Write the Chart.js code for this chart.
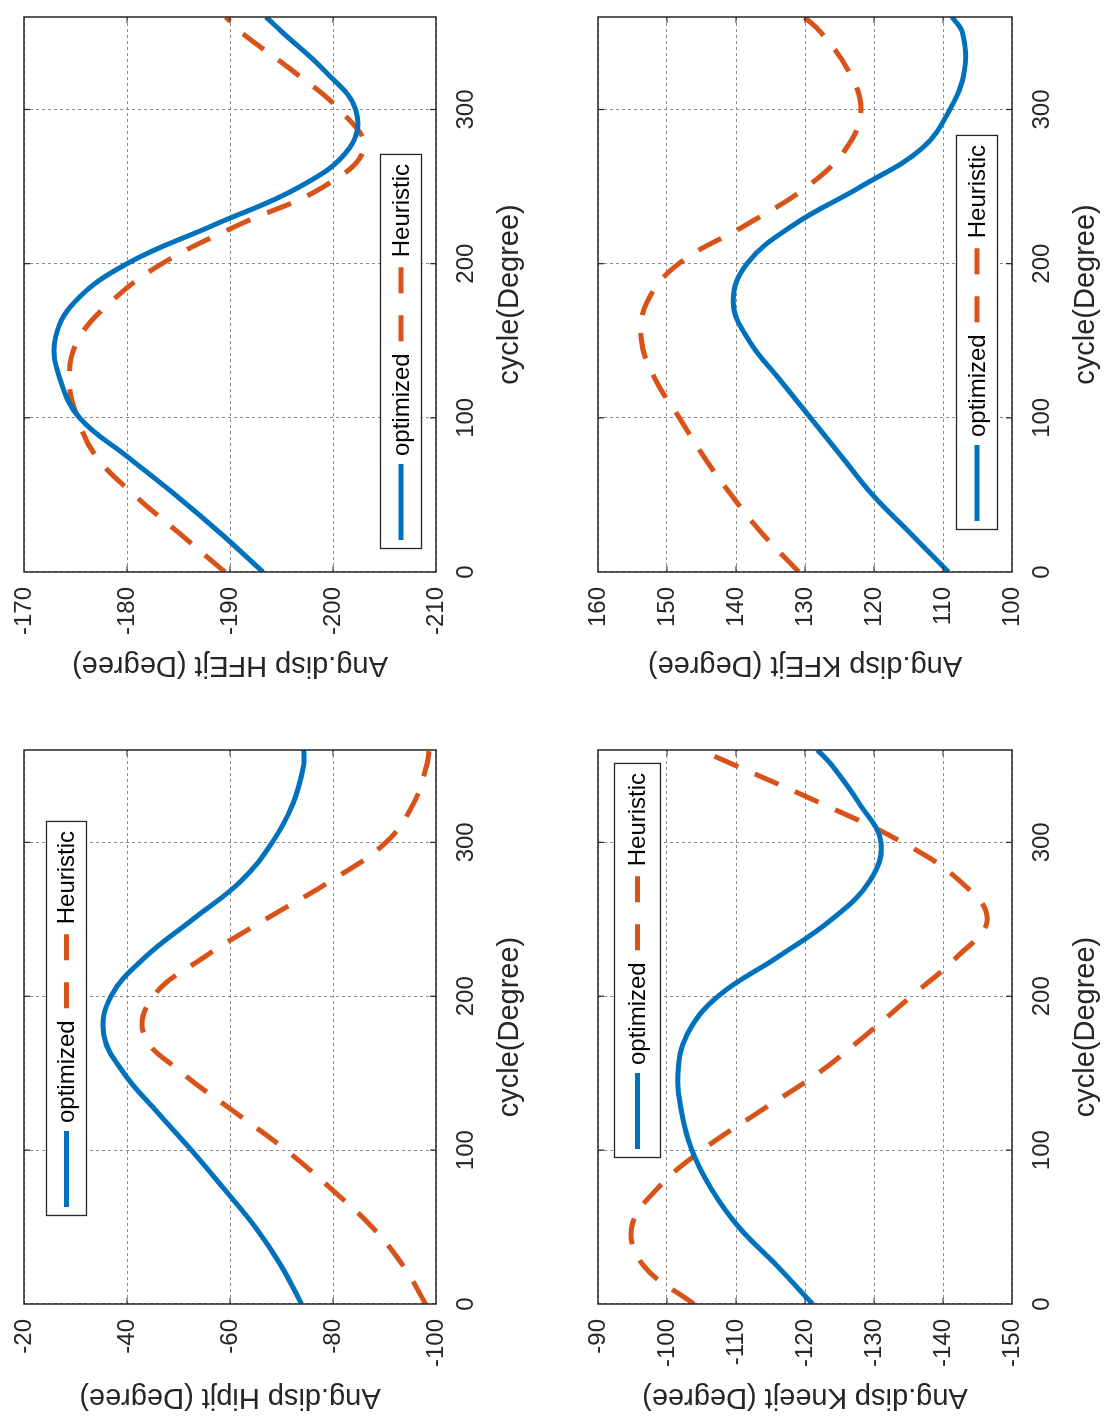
<!DOCTYPE html>
<html>
<head>
<meta charset="utf-8">
<script src="https://cdn.jsdelivr.net/npm/chart.js@4"></script>
<style>
html,body{margin:0;padding:0;background:#fff;overflow:hidden;width:1110px;height:1426px}
#fig{position:absolute;left:0;top:0;width:1426px;height:1110px;transform-origin:0 0;transform:translate(0,1426px) rotate(-90deg);background:#fff}
#fig canvas{position:absolute}
</style>
</head>
<body>
<div id="fig">
<canvas id="cHip"></canvas>
<canvas id="cHfe"></canvas>
<canvas id="cKnee"></canvas>
<canvas id="cKfe"></canvas>
</div>
<script>
// ---- data ----
const cycle = [0, 25, 50, 75, 100, 125, 150, 175, 200, 225, 250, 275, 300, 325, 350, 360];
const cycleTicks = [0, 100, 200, 300];
const seriesNames = ['optimized', 'Heuristic'];

const hipOptimized = [-73.9, -69.9, -64.9, -58.8, -52.5, -45.8, -39.4, -35.5, -36.9, -43.4, -52.8, -62.2, -68.2, -72.2, -74.3, -74.3];
const hipHeuristic = [-98.0, -93.6, -87.6, -79.6, -70.9, -60.8, -50.8, -43.3, -45.1, -54.8, -66.9, -79.6, -90.3, -95.6, -98.2, -98.7];
const hipTicks = [-100, -80, -60, -40, -20];

const hfeOptimized = [-193.2, -189.1, -184.7, -180.0, -175.4, -173.5, -173.0, -174.9, -180.0, -188.4, -196.8, -201.6, -202.2, -199.2, -195.1, -193.5];
const hfeHeuristic = [-189.5, -185.1, -180.7, -177.0, -175.2, -174.4, -175.2, -178.4, -183.4, -190.8, -199.1, -203.0, -200.6, -196.1, -191.1, -189.6];
const hfeTicks = [-210, -200, -190, -180, -170];

const kneeOptimized = [-121.1, -115.9, -110.4, -106.4, -103.6, -102.1, -101.6, -102.9, -107.4, -115.9, -123.9, -129.4, -131.0, -127.9, -123.9, -121.8];
const kneeHeuristic = [-103.9, -96.6, -94.9, -98.6, -105.1, -113.4, -121.9, -128.9, -135.4, -141.9, -146.4, -142.4, -134.1, -122.5, -109.9, -104.8];
const kneeTicks = [-150, -140, -130, -120, -110, -100, -90];

const kfeOptimized = [109.2, 114.7, 120.2, 124.7, 129.2, 133.7, 138.1, 140.4, 138.4, 131.7, 121.9, 113.0, 109.0, 106.9, 107.2, 108.7];
const kfeHeuristic = [130.9, 136.2, 140.7, 144.7, 148.2, 151.7, 153.7, 152.9, 148.3, 138.6, 129.7, 124.0, 121.9, 123.7, 127.7, 130.1];
const kfeTicks = [100, 110, 120, 130, 140, 150, 160];

// ---- styling ----
const FONT = "'Liberation Sans', Arial, Helvetica, sans-serif";
Chart.defaults.font.family = FONT;
const BLUE = '#0072BD', RED = '#D95319', INK = '#262626';

const framePlugin = {
  id: 'frame',
  afterDatasetsDraw(chart) {
    const {ctx, chartArea: a, scales} = chart;
    ctx.save();
    ctx.strokeStyle = INK;
    ctx.lineWidth = 1.5;
    ctx.setLineDash([]);
    ctx.strokeRect(a.left, a.top, a.right - a.left, a.bottom - a.top);
    ctx.lineWidth = 1.2;
    const tl = 6;
    ctx.beginPath();
    scales.x.ticks.forEach(t => {
      const px = scales.x.getPixelForValue(t.value);
      if (px <= a.left + 1 || px >= a.right - 1) return;
      ctx.moveTo(px, a.bottom); ctx.lineTo(px, a.bottom - tl);
      ctx.moveTo(px, a.top); ctx.lineTo(px, a.top + tl);
    });
    scales.y.ticks.forEach(t => {
      const py = scales.y.getPixelForValue(t.value);
      if (py <= a.top + 1 || py >= a.bottom - 1) return;
      ctx.moveTo(a.left, py); ctx.lineTo(a.left + tl, py);
      ctx.moveTo(a.right, py); ctx.lineTo(a.right - tl, py);
    });
    ctx.stroke();
    ctx.restore();
  }
};

const boxLegend = {
  id: 'boxLegend',
  afterDatasetsDraw(chart, args, opts) {
    const {ctx, chartArea: a} = chart;
    const ds = chart.data.datasets;
    ctx.save();
    ctx.font = "24px " + FONT;
    const pad = 9, sample = 76, gapText = 8, gapItem = 12;
    const widths = ds.map(d => ctx.measureText(d.label).width);
    let w = pad;
    ds.forEach((d, i) => { w += sample + gapText + widths[i] + (i < ds.length - 1 ? gapItem : pad); });
    const x0 = Math.round(a.left + opts.left), y0 = Math.round(a.top + opts.top), h = opts.height;
    ctx.fillStyle = '#fff';
    ctx.fillRect(x0, y0, w, h);
    ctx.lineWidth = 1.3;
    ctx.strokeStyle = INK;
    ctx.strokeRect(x0 + 0.5, y0 + 0.5, w, h);
    let x = x0 + pad;
    const yc = y0 + h / 2 + 0.5;
    ds.forEach((d, i) => {
      ctx.beginPath();
      ctx.setLineDash(d.legendDash || []);
      ctx.lineWidth = d.borderWidth;
      ctx.strokeStyle = d.borderColor;
      ctx.moveTo(x, yc); ctx.lineTo(x + sample, yc);
      ctx.stroke();
      ctx.setLineDash([]);
      x += sample + gapText;
      ctx.fillStyle = '#000';
      ctx.textBaseline = 'middle';
      ctx.textAlign = 'left';
      ctx.fillText(d.label, x, yc + 1);
      x += widths[i] + gapItem;
    });
    ctx.restore();
  }
};

function makeChart(id, box, yTicks, yTitle, optVals, heurVals, legendPos) {
  const cv = document.getElementById(id);
  const YW = 120, XH = 100, PT = 34, PR = 20;
  const W = box.w + YW + PR, H = box.h + XH + PT;
  cv.width = W; cv.height = H;
  cv.style.width = W + 'px'; cv.style.height = H + 'px';
  cv.style.left = (box.l - YW) + 'px';
  cv.style.top = (box.t - PT) + 'px';
  const toPts = vals => cycle.map((c, i) => ({x: c, y: vals[i]}));
  return new Chart(cv, {
    type: 'line',
    data: {
      datasets: [
        {label: seriesNames[0], data: toPts(optVals), borderColor: BLUE, borderWidth: 5,
         pointRadius: 0, tension: 0.4, fill: false, clip: 0, legendDash: []},
        {label: seriesNames[1], data: toPts(heurVals), borderColor: RED, borderWidth: 5,
         borderDash: [26, 18], pointRadius: 0, tension: 0.4, fill: false, clip: 0, legendDash: [26, 22]}
      ]
    },
    options: {
      responsive: false, animation: false, devicePixelRatio: 1,
      layout: {padding: {top: PT, right: PR, left: 0, bottom: 0}},
      plugins: {legend: {display: false}, tooltip: {enabled: false}, boxLegend: legendPos},
      scales: {
        x: {
          type: 'linear', min: 0, max: 360,
          afterBuildTicks: s => { s.ticks = cycleTicks.map(v => ({value: v})); },
          afterFit: s => { s.height = XH; },
          grid: {color: '#8c8c8c', lineWidth: 1, drawTicks: false},
          border: {display: false, dash: [3, 3]},
          ticks: {padding: 16, color: INK, font: {size: 24}, maxRotation: 0, autoSkip: false},
          title: {display: true, text: 'cycle(Degree)', color: INK, font: {size: 29}, padding: {top: 0, bottom: 9}}
        },
        y: {
          type: 'linear', min: yTicks[0], max: yTicks[yTicks.length - 1],
          afterBuildTicks: s => { s.ticks = yTicks.map(v => ({value: v})); },
          afterFit: s => { s.width = YW; },
          grid: {color: '#8c8c8c', lineWidth: 1, drawTicks: false},
          border: {display: false, dash: [3, 3]},
          ticks: {padding: 15, color: INK, font: {size: 24}, autoSkip: false},
          title: {display: true, text: yTitle, color: INK, font: {size: 29}, padding: {top: 10, bottom: 0}}
        }
      }
    },
    plugins: [framePlugin, boxLegend]
  });
}

makeChart('cHip',  {l: 122, t: 24,  w: 554, h: 412}, hipTicks,  'Ang.disp Hipjt (Degree)',  hipOptimized,  hipHeuristic,  {left: 88,  top: 22,  height: 40});
makeChart('cHfe',  {l: 854, t: 24,  w: 555, h: 412}, hfeTicks,  'Ang.disp HFEjt (Degree)',  hfeOptimized,  hfeHeuristic,  {left: 23,  top: 356, height: 41});
makeChart('cKnee', {l: 122, t: 598, w: 554, h: 414}, kneeTicks, 'Ang.disp Kneejt (Degree)', kneeOptimized, kneeHeuristic, {left: 146, top: 16,  height: 46});
makeChart('cKfe',  {l: 854, t: 598, w: 555, h: 414}, kfeTicks,  'Ang.disp KFEjt (Degree)',  kfeOptimized,  kfeHeuristic,  {left: 42,  top: 358, height: 41});
</script>
</body>
</html>
